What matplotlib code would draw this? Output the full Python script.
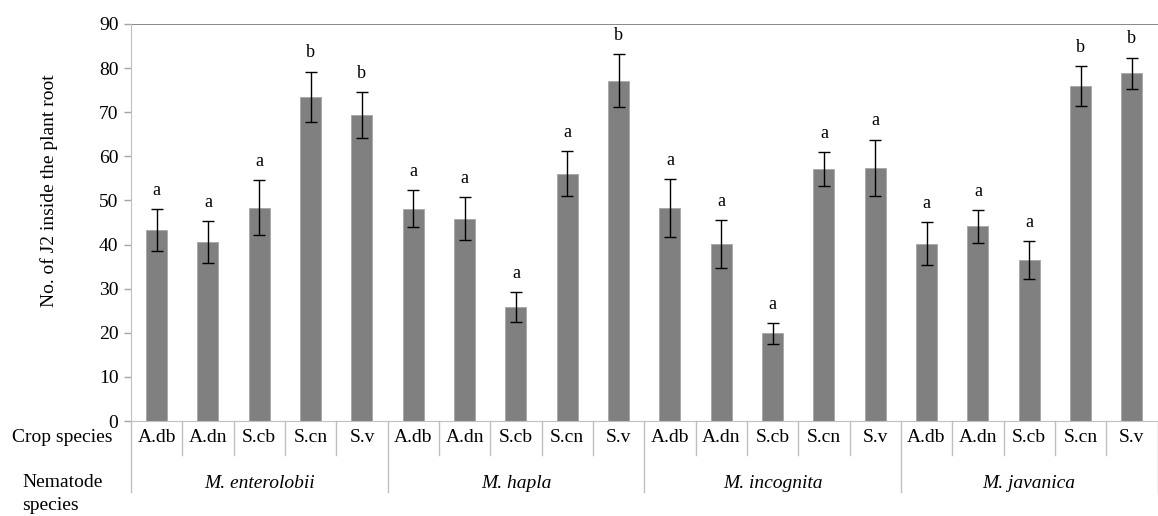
import matplotlib.pyplot as plt
import matplotlib.transforms as mtransforms
import numpy as np

plt.rcParams['font.family'] = 'serif'
plt.rcParams['font.serif'] = ['Liberation Serif', 'DejaVu Serif']

# Data
nematodes = ['M. enterolobii', 'M. hapla', 'M. incognita', 'M. javanica']
crops = ['A.db', 'A.dn', 'S.cb', 'S.cn', 'S.v']

means = [43.3, 40.6, 48.4, 73.5, 69.4,
         48.1, 45.9, 25.9, 56.1, 77.1,
         48.3, 40.1, 19.9, 57.1, 57.4,
         40.2, 44.1, 36.5, 75.9, 78.8]
errors = [4.8, 4.7, 6.3, 5.7, 5.2,
          4.2, 4.8, 3.4, 5.1, 6.0,
          6.6, 5.4, 2.4, 3.8, 6.4,
          4.9, 3.7, 4.3, 4.5, 3.6]
letters = ['a', 'a', 'a', 'b', 'b',
           'a', 'a', 'a', 'a', 'b',
           'a', 'a', 'a', 'a', 'a',
           'a', 'a', 'a', 'b', 'b']

fig = plt.figure(figsize=(11.58, 5.16), dpi=100)
ax = fig.add_axes([0.1131, 0.184, 0.8865, 0.7695])

n = len(means)
x = np.arange(n)
ax.bar(x, means, width=0.41, color='#808080', edgecolor='#a6a6a6', linewidth=0.6, zorder=2)
ax.errorbar(x, means, yerr=errors, fmt='none', ecolor='black', elinewidth=1,
            capsize=4, capthick=1, zorder=3)

for xi, m, e, lab in zip(x, means, errors, letters):
    ax.text(xi, m + e + 2.3, lab, ha='center', va='bottom', fontsize=13)

ax.set_xlim(-0.5, n - 0.5)
ax.set_ylim(0, 90)
ax.set_yticks(range(0, 91, 10))
ax.tick_params(axis='y', labelsize=14, length=5, color='#a6a6a6', width=1, pad=4)
ax.set_xticks([])
ax.axhline(90, color='#7f7f7f', linewidth=1.3, zorder=1)

for side in ['top', 'right']:
    ax.spines[side].set_visible(False)
ax.spines['left'].set_color('#bfbfbf')
ax.spines['bottom'].set_color('#bfbfbf')

# y label sits a bit above the axis centre in the original
fig.text(0.042, 0.63, 'No. of J2 inside the plant root', rotation=90,
         ha='center', va='center', fontsize=14)

# Category table under the axis
trans = mtransforms.blended_transform_factory(ax.transData, ax.transAxes)
for i in range(n + 1):
    bx = i - 0.5
    bottom = -0.179 if i % len(crops) == 0 else -0.0856
    ax.plot([bx, bx], [0, bottom], color='#bfbfbf', linewidth=1,
            transform=trans, clip_on=False)

for i in range(n):
    ax.text(i, -0.042, crops[i % len(crops)], transform=trans,
            ha='center', va='center', fontsize=14)

for g, name in enumerate(nematodes):
    center = g * len(crops) + (len(crops) - 1) / 2
    ax.text(center, -0.157, name, transform=trans, ha='center', va='center',
            fontsize=14, style='italic')

fig.text(0.0535, 0.1525, 'Crop species', ha='center', va='center', fontsize=14)
fig.text(0.019, 0.042, 'Nematode\nspecies', ha='left', va='center', fontsize=14,
         linespacing=1.45)

fig.savefig('out.png', dpi=100)
